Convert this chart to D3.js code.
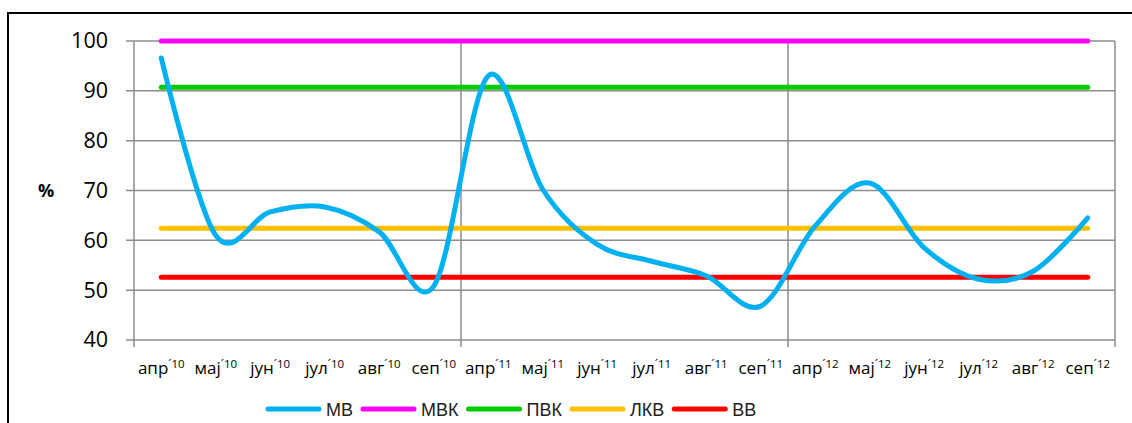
<!DOCTYPE html>
<html><head><meta charset="utf-8">
<script src="https://cdn.jsdelivr.net/npm/d3@7"></script>
<style>
html,body{margin:0;padding:0;background:#fff;}
svg{display:block;}
</style></head>
<body>
<svg id="chart" width="1132" height="423"></svg>
<script>
// ---- data ----
const monthNames = ["апр","мај","јун","јул","авг","сеп","апр","мај","јун","јул","авг","сеп","апр","мај","јун","јул","авг","сеп"];
const yearLabels = ["10","10","10","10","10","10","11","11","11","11","11","11","12","12","12","12","12","12"];
const categories = monthNames.map((m,i)=>m+"´"+yearLabels[i]);
const mbValues = [96.6,61.0,65.7,66.7,61.7,50.8,93.0,70.2,59.2,55.8,52.9,46.8,62.9,71.5,58.5,52.2,53.8,64.5];
const mvkValue = 100;
const pvkValue = 90.7;
const lkvValue = 62.4;
const vvValue = 52.6;
const yTicks = [40,50,60,70,80,90,100];
const seriesNames = ["МВ","МВК","ПВК","ЛКВ","ВВ"];
const seriesColors = ["#00B0F0","#FF00FF","#00CC00","#FFC000","#FF0000"];

// ---- layout ----
const svg = d3.select("#chart");
const x0 = 134, x1 = 1115, yTop = 41, yBot = 340;
const x = d3.scaleBand().domain(categories).range([x0,x1]).padding(0);
const xIdx = d3.scaleLinear().domain([0,categories.length]).range([x0,x1]);
const y = d3.scaleLinear().domain([40,100]).range([yBot,yTop]);
const cx = c => x(c) + x.bandwidth()/2;
const gridColor = "#8c8c8c";

// outer border
svg.append("rect").attr("x",8).attr("y",13).attr("width",1200).attr("height",500)
  .attr("fill","none").attr("stroke","#000").attr("stroke-width",2);

// horizontal gridlines
svg.append("g").selectAll("line").data(yTicks).join("line")
  .attr("x1",x0-8).attr("x2",x1).attr("y1",d=>y(d)).attr("y2",d=>y(d))
  .attr("stroke",gridColor).attr("stroke-width",1.5);

// vertical gridlines every 6 categories
const vIdx = [0,6,12,18];
svg.append("g").selectAll("line").data(vIdx).join("line")
  .attr("x1",d=>xIdx(d)).attr("x2",d=>xIdx(d)).attr("y1",yTop).attr("y2",yBot+7)
  .attr("stroke",gridColor).attr("stroke-width",1.5);

// y axis labels
const yAxis = svg.append("g").attr("transform",`translate(${x0},0)`)
  .call(d3.axisLeft(y).tickValues(yTicks).tickSize(8).tickPadding(18).tickFormat(d3.format("d")));
yAxis.select(".domain").remove();
yAxis.selectAll(".tick line").remove();
yAxis.selectAll("text").attr("font-family","'Open Sans', sans-serif").attr("font-size",21.5).attr("fill","#000");

svg.append("text").attr("x",46).attr("y",197).attr("text-anchor","middle")
  .attr("font-family","'Open Sans', sans-serif").attr("font-weight","bold").attr("font-size",18).text("%");

// x axis labels
const xAxis = svg.append("g").attr("transform",`translate(0,${yBot})`)
  .call(d3.axisBottom(x).tickSize(0).tickPadding(0));
xAxis.select(".domain").remove();
xAxis.selectAll(".tick text").each(function(d,i){
  const t = d3.select(this);
  t.text(null).attr("y",34).attr("dy",null)
   .attr("font-family","'Open Sans', sans-serif").attr("fill","#000").attr("text-anchor","middle");
  t.append("tspan").attr("font-size",17).text(monthNames[i]);
  t.append("tspan").attr("font-size",11.5).attr("dy",-6).text("´"+yearLabels[i]);
});

// constant lines
const consts = [[mvkValue,1],[pvkValue,2],[lkvValue,3],[vvValue,4]];
svg.append("g").selectAll("line").data(consts).join("line")
  .attr("x1",cx(categories[0])).attr("x2",cx(categories[categories.length-1]))
  .attr("y1",d=>y(d[0])).attr("y2",d=>y(d[0]))
  .attr("stroke",d=>seriesColors[d[1]]).attr("stroke-width",5).attr("stroke-linecap","round");

// MB smooth line
const line = d3.line().x((d,i)=>cx(categories[i])).y(d=>y(d)).curve(d3.curveCardinal.tension(0));
svg.append("path").datum(mbValues).attr("d",line).attr("fill","none")
  .attr("stroke",seriesColors[0]).attr("stroke-width",5).attr("stroke-linecap","round").attr("stroke-linejoin","round");

// legend
const lg = svg.append("g");
let lx = 268;
const ly = 409;
seriesNames.forEach((n,i)=>{
  lg.append("line").attr("x1",lx).attr("x2",lx+51).attr("y1",ly).attr("y2",ly)
    .attr("stroke",seriesColors[i]).attr("stroke-width",5).attr("stroke-linecap","round");
  const t = lg.append("text").attr("x",lx+58).attr("y",ly+6.5)
    .attr("font-family","'Liberation Sans', Arial, sans-serif").attr("font-size",18).attr("fill","#222").text(n);
  lx += 58 + t.node().getComputedTextLength() + 10;
});
</script>
</body></html>
